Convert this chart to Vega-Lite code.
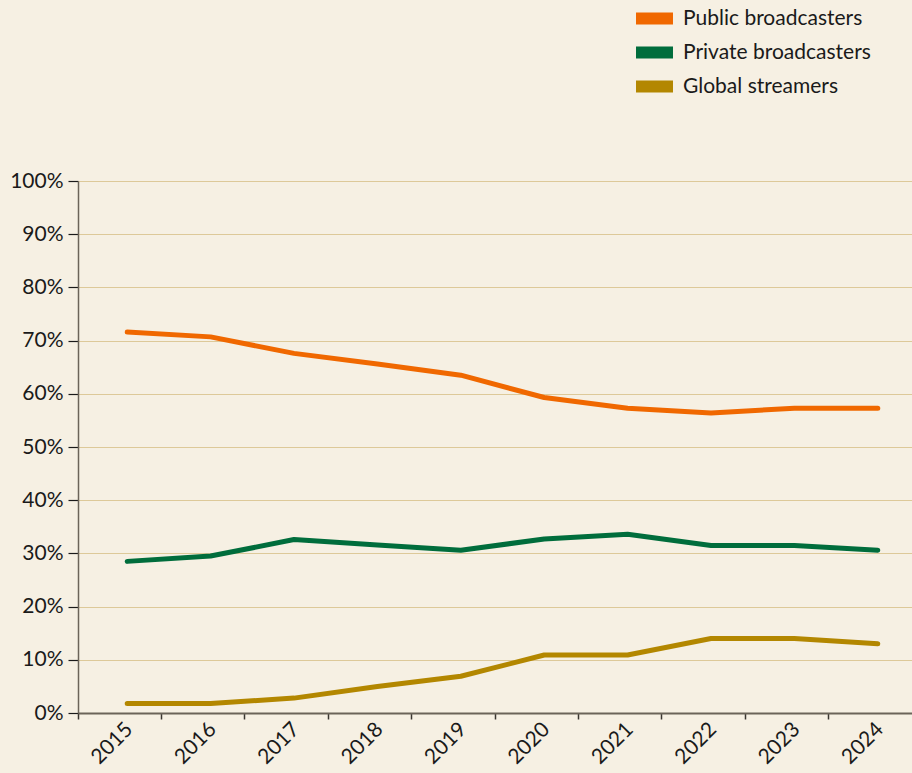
{
  "$schema": "https://vega.github.io/schema/vega-lite/v6.json",
  "width": 834,
  "height": 532,
  "autosize": {"type": "none"},
  "padding": {"left": 78, "top": 181, "right": 0, "bottom": 60},
  "background": "#f6f0e3",
  "config": {"view": {"stroke": null}, "font": "Lato"},
  "data": {
    "values": [
      {"year": "2015", "series": "Public broadcasters", "share": 71.6},
      {"year": "2016", "series": "Public broadcasters", "share": 70.7},
      {"year": "2017", "series": "Public broadcasters", "share": 67.6},
      {"year": "2018", "series": "Public broadcasters", "share": 65.6},
      {"year": "2019", "series": "Public broadcasters", "share": 63.5},
      {"year": "2020", "series": "Public broadcasters", "share": 59.3},
      {"year": "2021", "series": "Public broadcasters", "share": 57.3},
      {"year": "2022", "series": "Public broadcasters", "share": 56.4},
      {"year": "2023", "series": "Public broadcasters", "share": 57.3},
      {"year": "2024", "series": "Public broadcasters", "share": 57.3},
      {"year": "2015", "series": "Private broadcasters", "share": 28.5},
      {"year": "2016", "series": "Private broadcasters", "share": 29.5},
      {"year": "2017", "series": "Private broadcasters", "share": 32.6},
      {"year": "2018", "series": "Private broadcasters", "share": 31.6},
      {"year": "2019", "series": "Private broadcasters", "share": 30.6},
      {"year": "2020", "series": "Private broadcasters", "share": 32.7},
      {"year": "2021", "series": "Private broadcasters", "share": 33.6},
      {"year": "2022", "series": "Private broadcasters", "share": 31.5},
      {"year": "2023", "series": "Private broadcasters", "share": 31.5},
      {"year": "2024", "series": "Private broadcasters", "share": 30.6},
      {"year": "2015", "series": "Global streamers", "share": 1.8},
      {"year": "2016", "series": "Global streamers", "share": 1.8},
      {"year": "2017", "series": "Global streamers", "share": 2.8},
      {"year": "2018", "series": "Global streamers", "share": 5.0},
      {"year": "2019", "series": "Global streamers", "share": 6.9},
      {"year": "2020", "series": "Global streamers", "share": 10.9},
      {"year": "2021", "series": "Global streamers", "share": 10.9},
      {"year": "2022", "series": "Global streamers", "share": 14.0},
      {"year": "2023", "series": "Global streamers", "share": 14.0},
      {"year": "2024", "series": "Global streamers", "share": 13.0}
    ]
  },
  "mark": {"type": "line", "strokeWidth": 5, "strokeCap": "round", "strokeJoin": "round"},
  "encoding": {
    "x": {
      "field": "year",
      "type": "ordinal",
      "bandPosition": 0.59,
      "scale": {"type": "band", "paddingInner": 0, "paddingOuter": 0},
      "axis": {
        "title": null,
        "bandPosition": 0,
        "grid": false,
        "domainColor": "#6b6459",
        "domainWidth": 2,
        "tickColor": "#3a3630",
        "tickWidth": 1.5,
        "tickSize": 6,
        "labelAngle": -45,
        "labelAlign": "right",
        "labelBaseline": "middle",
        "labelOffset": 10,
        "labelPadding": 7,
        "labelFontSize": 21,
        "labelColor": "#1a1a1a",
        "labelFont": "Lato"
      }
    },
    "y": {
      "field": "share",
      "type": "quantitative",
      "scale": {"domain": [0, 100], "nice": false},
      "axis": {
        "title": null,
        "values": [0, 10, 20, 30, 40, 50, 60, 70, 80, 90, 100],
        "labelExpr": "datum.value + '%'",
        "grid": true,
        "gridColor": "#ddc999",
        "gridWidth": 1.2,
        "domainColor": "#6b6459",
        "domainWidth": 1.5,
        "tickColor": "#1a1a1a",
        "tickWidth": 1.2,
        "tickSize": 10,
        "labelPadding": 5,
        "labelFontSize": 21,
        "labelColor": "#1a1a1a",
        "labelFont": "Lato"
      }
    },
    "color": {
      "field": "series",
      "type": "nominal",
      "scale": {
        "domain": ["Public broadcasters", "Private broadcasters", "Global streamers"],
        "range": ["#f06800", "#006d3c", "#b38700"]
      },
      "legend": {
        "title": null,
        "orient": "none",
        "legendX": 566,
        "legendY": -173,
        "padding": 0,
        "symbolType": "M-2,-0.65H2V0.65H-2Z",
        "symbolSize": 342,
        "symbolStrokeWidth": 0,
        "symbolOpacity": 1,
        "labelFontSize": 21,
        "labelFont": "Lato",
        "labelColor": "#1a1a1a",
        "labelOffset": 18,
        "labelLimit": 400,
        "rowPadding": 12,
        "encode": {
          "symbols": {
            "update": {
              "fill": {"scale": "color", "field": "value"},
              "fillOpacity": {"value": 1}
            }
          }
        }
      }
    }
  }
}
